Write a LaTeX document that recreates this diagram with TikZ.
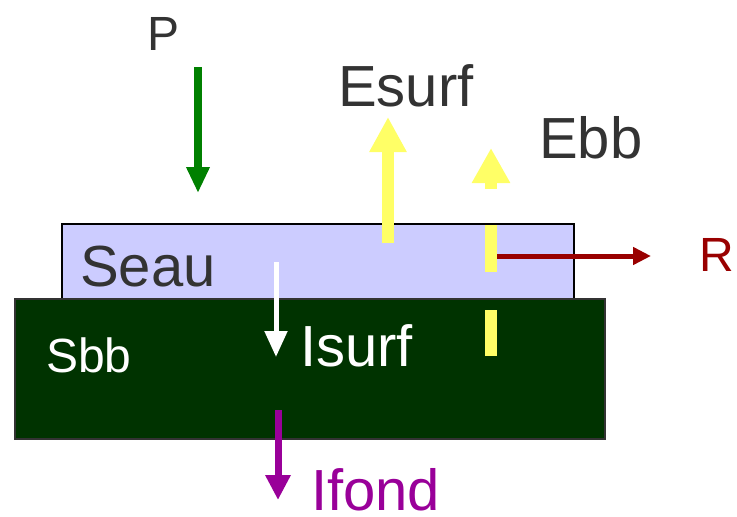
\documentclass[tikz,border=0pt]{standalone}
\usepackage{fontspec}
\setmainfont{Liberation Sans}
\usetikzlibrary{arrows.meta}
\definecolor{txtgray}{HTML}{333333}
\definecolor{seaufill}{HTML}{CCCCFF}
\definecolor{sbbfill}{HTML}{003300}
\definecolor{pgreen}{HTML}{008000}
\definecolor{eyellow}{HTML}{FFFF66}
\definecolor{rred}{HTML}{990000}
\definecolor{ipurple}{HTML}{990099}
\begin{document}
\begin{tikzpicture}[x=1pt,y=-1pt,
  big/.style={inner sep=0pt, anchor=base west, font=\fontsize{58}{60}\selectfont},
  mid/.style={inner sep=0pt, anchor=base west, font=\fontsize{48}{50}\selectfont},
  layer/.style={draw=black, line width=1.5pt, inner sep=0pt, outer sep=0pt}]
\useasboundingbox (0,0) rectangle (737,517);
% boxes
\node[layer, fill=seaufill, minimum width=512pt, minimum height=75pt] (seaubox) at (318,261.5) {};
\node[layer, draw=black!80, fill=sbbfill, minimum width=590pt, minimum height=140pt] (sbbbox) at (310,369) {};
% texts
\node[mid, text=txtgray] (ptext) at (147,50) {P};
\node[big, text=txtgray] (esurftext) at (338,106) {Esurf};
\node[big, text=txtgray] (ebbtext) at (539,158) {Ebb};
\node[mid, text=rred] (rtext) at (699,271) {R};
\node[big, text=txtgray] (seautext) at (80,286.5) {Seau};
\node[mid, text=white] (sbbtext) at (46,372.5) {Sbb};
\node[big, text=white] (isurftext) at (300,366) {Isurf};
\node[big, text=ipurple] (ifondtext) at (311,510) {Ifond};
% arrow coordinates
\coordinate (pa) at (198,67); \coordinate (pb) at (198,193);
\coordinate (ea) at (388,243); \coordinate (eb) at (388,117);
\coordinate (ra) at (489,256); \coordinate (rb) at (651,256);
\coordinate (d1a) at (491,356); \coordinate (d1b) at (491,310);
\coordinate (d2a) at (491,272); \coordinate (d2b) at (491,225);
\coordinate (d3a) at (491,189); \coordinate (d3b) at (491,148);
\coordinate (wa) at (276,262); \coordinate (wb) at (276,357);
\coordinate (fa) at (278,410); \coordinate (fb) at (278,500);
% arrows
\draw[pgreen, line width=8pt, -{Triangle[width=22pt,length=26pt]}] (pa) -- (pb);
\draw[eyellow, line width=12pt, -{Triangle[width=35pt,length=35pt]}] (ea) -- (eb);
\draw[rred, line width=5pt, -{Triangle[width=17pt,length=18pt]}] (ra) -- (rb);
\draw[eyellow, line width=12pt] (d1a) -- (d1b);
\draw[eyellow, line width=12pt] (d2a) -- (d2b);
\draw[eyellow, line width=12pt, -{Triangle[width=36pt,length=35pt]}] (d3a) -- (d3b);
\draw[white, line width=5pt, -{Triangle[width=22pt,length=26pt]}] (wa) -- (wb);
\draw[ipurple, line width=7pt, -{Triangle[width=24pt,length=25pt]}] (fa) -- (fb);
\end{tikzpicture}
\end{document}
